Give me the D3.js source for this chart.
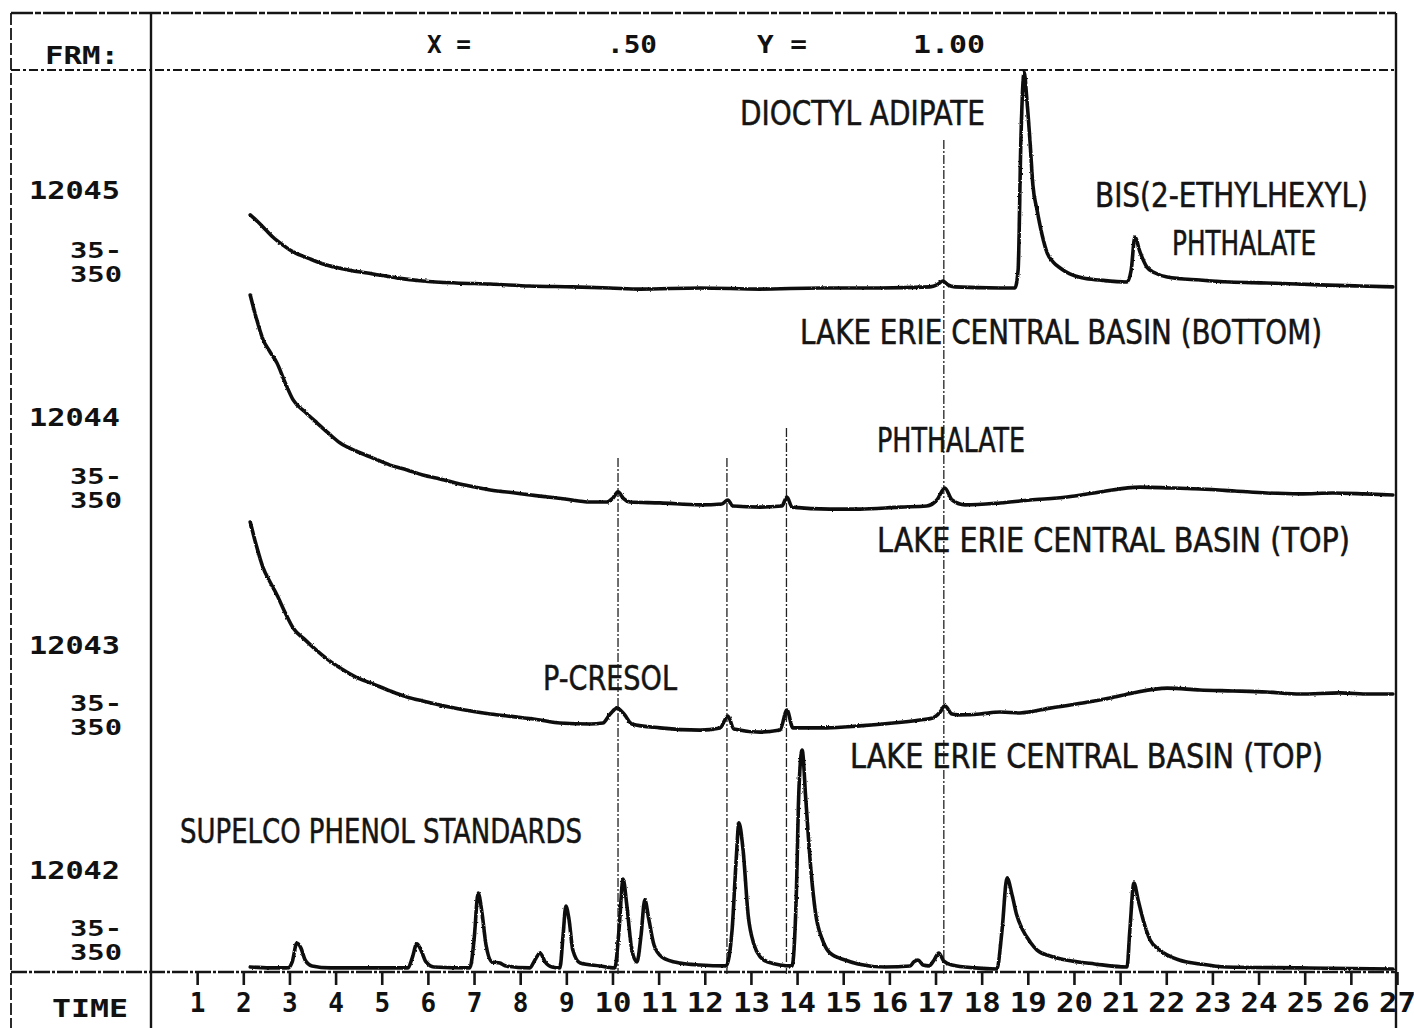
<!DOCTYPE html>
<html>
<head>
<meta charset="utf-8">
<script src="https://cdn.jsdelivr.net/npm/d3@7"></script>
<style>
  html, body { margin: 0; padding: 0; background: #fff; }
  svg { display: block; }
  .plot { font-family: "DejaVu Sans Mono", monospace; font-weight: bold; fill: #111; }
  .note { font-family: "DejaVu Sans Condensed", "DejaVu Sans", sans-serif; fill: #141414; stroke: #141414; stroke-width: 0.5; }
</style>
</head>
<body>
<svg id="chart" width="1414" height="1028"></svg>
<script>
// ---- Retention-time axis (minutes) ----
const timeTicks = d3.range(1, 28);

// ---- Run identifiers and scanned mass range shown in the left column ----
const runIds = ["12045", "12044", "12043", "12042"];
const massRange = ["35-", "350"];

// ---- Header line of the plotter ----
const headerLabels = ["FRM:", "X =", ".50", "Y =", "1.00"];

// ---- Chromatogram traces: [retention time (min), relative abundance] ----
// Run 12045: dioctyl adipate / bis(2-ethylhexyl) phthalate
const run12045 = [
  [2.15,33.2],[2.32,30.0],[2.49,26.4],[2.64,23.2],[2.86,19.5],[3.08,16.4],[3.40,13.6],[3.73,10.9],
  [4.27,8.2],[4.81,6.4],[5.35,4.5],[5.89,3.2],[6.61,2.3],[7.35,1.8],[8.21,0.9],[9.14,0.5],
  [9.95,0.0],[10.60,-0.5],[11.90,0.0],[13.20,-0.5],[14.50,0.0],[15.80,0.0],[16.88,0.5],[17.03,1.4],
  [17.16,3.2],[17.27,1.4],[17.42,0.5],[18.40,0.0],[18.72,0.0],[18.79,8.2],[18.85,67.3],[18.92,98.2],
  [18.98,85.5],[19.05,65.9],[19.11,46.8],[19.20,35.5],[19.31,24.1],[19.42,15.9],[19.55,11.8],[19.70,9.1],
  [19.91,6.4],[20.20,4.5],[20.56,3.6],[21.15,2.7],[21.24,8.2],[21.32,23.2],[21.43,16.4],[21.58,9.5],
  [21.76,6.8],[22.02,5.0],[22.73,3.6],[23.38,2.7],[24.18,2.3],[25.33,1.4],[26.20,0.9],[26.91,0.5]
];

// Run 12044: Lake Erie central basin (bottom)
const run12044 = [
  [2.15,95.9],[2.28,85.5],[2.43,75.5],[2.58,70.0],[2.73,65.0],[2.90,56.4],[3.08,48.2],[3.34,42.7],
  [3.60,37.7],[3.84,33.2],[4.10,28.6],[4.44,25.0],[4.81,21.8],[5.18,18.6],[5.55,16.4],[5.89,14.1],
  [6.26,12.3],[6.80,9.5],[7.35,7.3],[7.89,5.9],[8.43,4.5],[8.97,3.2],[9.51,1.8],[9.88,1.8],
  [10.01,3.6],[10.12,6.4],[10.23,3.6],[10.38,1.8],[11.03,1.4],[11.90,0.5],[12.37,0.9],[12.50,2.7],
  [12.61,0.0],[13.20,-0.5],[13.67,0.0],[13.78,4.1],[13.89,-0.5],[14.71,-1.4],[15.36,-1.4],[16.23,-0.5],
  [16.81,0.0],[17.03,2.7],[17.20,8.2],[17.36,2.7],[17.64,0.5],[18.40,1.4],[19.05,2.7],[19.85,4.1],
  [20.56,6.4],[21.43,8.6],[22.08,8.2],[22.73,7.7],[23.49,6.8],[24.18,5.9],[24.90,5.5],[25.61,5.9],
  [26.30,5.5],[26.91,5.0]
];

// Run 12043: Lake Erie central basin (top)
const run12043 = [
  [2.15,94.1],[2.28,83.6],[2.43,73.2],[2.58,66.8],[2.73,60.9],[2.90,53.2],[3.08,45.9],[3.34,40.5],
  [3.60,35.5],[3.84,31.4],[4.10,27.7],[4.44,23.6],[4.81,20.5],[5.18,17.3],[5.55,14.5],[5.89,12.7],
  [6.26,10.9],[6.80,8.6],[7.35,6.8],[7.89,5.5],[8.43,4.1],[8.86,2.7],[9.51,2.3],[9.79,2.7],
  [9.95,6.8],[10.10,9.5],[10.25,6.8],[10.42,2.3],[11.03,0.5],[11.90,-0.5],[12.33,0.5],[12.50,5.9],
  [12.63,0.0],[13.20,-1.4],[13.63,-0.5],[13.78,8.6],[13.91,0.5],[14.65,0.5],[15.36,1.4],[16.08,2.7],
  [16.66,4.1],[16.94,5.0],[17.10,7.7],[17.20,10.5],[17.36,6.8],[17.53,6.4],[17.96,6.8],[18.40,7.7],
  [18.83,7.3],[19.48,9.5],[20.19,11.8],[20.78,14.1],[21.28,16.4],[22.02,18.6],[22.73,17.7],[23.45,17.3],
  [24.18,16.8],[24.90,15.9],[25.76,16.4],[26.41,15.9],[26.91,15.9]
];

// Run 12042: Supelco phenol standards
const run12042 = [
  [2.15,0.9],[2.58,0.5],[2.97,0.5],[3.06,3.2],[3.16,11.8],[3.25,9.5],[3.34,4.1],[3.49,1.4],
  [3.88,0.5],[4.96,0.5],[5.57,0.5],[5.66,5.0],[5.76,11.4],[5.85,8.6],[5.96,3.2],[6.13,0.9],
  [6.91,0.5],[7.00,13.2],[7.09,34.5],[7.17,25.9],[7.26,10.9],[7.39,3.2],[7.56,2.7],[7.69,1.4],
  [8.21,0.5],[8.32,4.1],[8.43,7.3],[8.54,3.2],[8.69,0.9],[8.86,0.5],[8.93,15.5],[8.99,28.6],
  [9.06,22.3],[9.14,8.6],[9.30,2.7],[9.73,1.4],[10.05,0.5],[10.14,17.3],[10.23,40.9],[10.31,29.1],
  [10.42,8.6],[10.53,3.2],[10.62,15.5],[10.70,31.4],[10.79,22.3],[10.90,10.9],[11.07,5.5],[11.46,2.7],
  [11.90,1.8],[12.46,1.4],[12.59,17.3],[12.68,49.5],[12.74,66.4],[12.83,54.1],[12.94,24.5],[13.07,10.9],
  [13.20,5.5],[13.37,3.2],[13.89,1.4],[13.98,31.4],[14.04,81.4],[14.11,99.5],[14.19,76.8],[14.30,45.0],
  [14.40,25.5],[14.55,13.2],[14.71,7.3],[15.04,4.1],[15.32,2.3],[15.90,0.9],[16.45,1.4],[16.53,3.2],
  [16.62,4.1],[16.73,1.8],[16.86,1.4],[16.97,4.1],[17.07,7.3],[17.18,3.6],[17.36,1.8],[17.85,0.5],
  [18.33,0.0],[18.44,17.3],[18.55,41.4],[18.66,33.6],[18.76,24.5],[18.89,17.7],[19.05,12.3],[19.20,8.6],
  [19.48,5.9],[19.83,4.1],[20.45,2.3],[21.15,0.9],[21.21,17.3],[21.30,39.1],[21.39,31.4],[21.50,22.3],
  [21.65,13.2],[21.86,8.6],[22.28,4.1],[22.73,2.3],[23.29,0.9],[24.90,0.5],[26.91,0.0]
];

// ---- Retention times of the dashed peak markers (min) ----
const markerTimes = [10.12, 12.48, 13.77, 17.18];

// ---- Compound / sample annotations ----
const noteTexts = [
  "DIOCTYL ADIPATE", "BIS(2-ETHYLHEXYL)", "PHTHALATE",
  "LAKE ERIE CENTRAL BASIN (BOTTOM)", "PHTHALATE", "LAKE ERIE CENTRAL BASIN (TOP)",
  "P-CRESOL", "LAKE ERIE CENTRAL BASIN (TOP)", "SUPELCO PHENOL STANDARDS"
];

// =================== layout ===================
const W = 1414, H = 1028;
const frame = { left: 11, divider: 151, right: 1396, top: 13, header: 70, axis: 972, bottom: 1028 };
const traceBase = [288, 506, 729, 969];          // baseline of each stacked run
const markerTop = [458, 458, 428, 140];           // where each marker line starts
const noteLayout = [                              // [left x, text centre y, width]
  [740, 113, 245], [1095, 195, 273], [1172, 243, 144],
  [800, 332, 522], [877, 440, 148], [877, 540, 473],
  [543, 678, 134], [850, 756, 473], [180, 831, 402]
];
const runLabelLayout = [                          // [id y, "35-" y, "350" y]
  [190, 250, 274], [417, 476, 500], [645, 703, 727], [870, 928, 952]
];

const svg = d3.select("#chart");
svg.append("rect").attr("width", W).attr("height", H).attr("fill", "#fff");

// slight pen wobble for the plotted lines
const defs = svg.append("defs");
const f = defs.append("filter").attr("id", "pen").attr("x", "-2%").attr("y", "-2%").attr("width", "104%").attr("height", "104%");
f.append("feTurbulence").attr("type", "fractalNoise").attr("baseFrequency", 0.45).attr("numOctaves", 2).attr("seed", 3).attr("result", "n");
f.append("feDisplacementMap").attr("in", "SourceGraphic").attr("in2", "n").attr("scale", 2.2)
  .attr("xChannelSelector", "R").attr("yChannelSelector", "G");

const x = d3.scaleLinear().domain([0, 27]).range([frame.divider, frame.right + 1]);
const amp = d3.scaleLinear().domain([0, 100]).range([0, 220]);

// ---- frame ----
const fr = svg.append("g").attr("stroke", "#151515").attr("fill", "none");
fr.append("line").attr("x1", frame.left).attr("x2", frame.right).attr("y1", frame.top).attr("y2", frame.top)
  .attr("stroke-width", 2.6).attr("stroke-dasharray", "22,2,6,2");
fr.append("line").attr("x1", frame.left).attr("x2", frame.right).attr("y1", frame.header).attr("y2", frame.header)
  .attr("stroke-width", 2).attr("stroke-dasharray", "9,3,3,3");
fr.append("line").attr("x1", frame.left).attr("x2", frame.left).attr("y1", frame.top).attr("y2", frame.bottom)
  .attr("stroke-width", 1.8).attr("stroke-dasharray", "12,3");
fr.append("line").attr("x1", frame.divider).attr("x2", frame.divider).attr("y1", frame.top).attr("y2", frame.bottom)
  .attr("stroke-width", 2.4);
fr.append("line").attr("x1", frame.right).attr("x2", frame.right).attr("y1", frame.top).attr("y2", frame.bottom)
  .attr("stroke-width", 2.4);
fr.append("line").attr("x1", frame.left).attr("x2", frame.right).attr("y1", frame.axis).attr("y2", frame.axis)
  .attr("stroke-width", 2.6).attr("stroke-dasharray", "16,2,3,2");

// ---- time axis ----
const axis = d3.axisBottom(x).tickValues(timeTicks).tickSize(13).tickSizeOuter(0).tickPadding(9)
  .tickFormat(d3.format("d"));
const ax = svg.append("g").attr("transform", `translate(0,${frame.axis})`).call(axis);
ax.select(".domain").remove();
ax.selectAll(".tick line").attr("stroke", "#151515").attr("stroke-width", 2.6);
ax.selectAll(".tick text")
  .attr("class", "plot")
  .attr("font-size", 26)
  .attr("fill", "#111")
  .each(function(d) {
    if (String(d).length > 1) d3.select(this).attr("textLength", 37).attr("lengthAdjust", "spacingAndGlyphs");
  });

// ---- header ----
const hdr = svg.append("g").attr("class", "plot").attr("font-size", 24);
const hdrPos = [[45, 55, 74], [427, 44, 44], [607, 44, 50], [757, 44, 50], [913, 44, 72]];
headerLabels.forEach((t, i) => {
  hdr.append("text").attr("x", hdrPos[i][0]).attr("y", hdrPos[i][1] + 8.7)
    .attr("textLength", hdrPos[i][2]).attr("lengthAdjust", "spacingAndGlyphs").text(t);
});
svg.append("text").attr("class", "plot").attr("font-size", 24)
  .attr("x", 52).attr("y", 1008 + 8.7).attr("textLength", 76).attr("lengthAdjust", "spacingAndGlyphs").text("TIME");

// ---- run labels ----
const rl = svg.append("g").attr("class", "plot");
runIds.forEach((id, i) => {
  const [yId, yA, yB] = runLabelLayout[i];
  rl.append("text").attr("font-size", 24).attr("x", 29).attr("y", yId + 8.7)
    .attr("textLength", 91).attr("lengthAdjust", "spacingAndGlyphs").text(id);
  rl.append("text").attr("font-size", 20.5).attr("x", 70).attr("y", yA + 7.5)
    .attr("textLength", 52).attr("lengthAdjust", "spacingAndGlyphs").text(massRange[0]);
  rl.append("text").attr("font-size", 20.5).attr("x", 70).attr("y", yB + 7.5)
    .attr("textLength", 52).attr("lengthAdjust", "spacingAndGlyphs").text(massRange[1]);
});

// ---- dashed peak markers ----
svg.append("g").selectAll("line").data(markerTimes).join("line")
  .attr("x1", d => x(d)).attr("x2", d => x(d))
  .attr("y1", (d, i) => markerTop[i]).attr("y2", frame.axis + 2)
  .attr("stroke", "#222").attr("stroke-width", 1.3).attr("stroke-dasharray", "9,2,2,2");

// ---- annotations ----
const notes = svg.append("g").attr("class", "note").attr("font-size", 34);
noteTexts.forEach((t, i) => {
  const [nx, ny, nw] = noteLayout[i];
  notes.append("text").attr("x", nx).attr("y", ny + 12.4)
    .attr("textLength", nw).attr("lengthAdjust", "spacingAndGlyphs").text(t);
});

// ---- traces ----
const runs = [run12045, run12044, run12043, run12042];
const tg = svg.append("g").attr("filter", "url(#pen)");
runs.forEach((run, i) => {
  const line = d3.line()
    .x(d => x(d[0]))
    .y(d => traceBase[i] - amp(d[1]))
    .curve(d3.curveMonotoneX);
  tg.append("path").datum(run).attr("d", line)
    .attr("fill", "none").attr("stroke", "#0d0d0d").attr("stroke-width", 3.6)
    .attr("stroke-linejoin", "round").attr("stroke-linecap", "round");
});
</script>
</body>
</html>
